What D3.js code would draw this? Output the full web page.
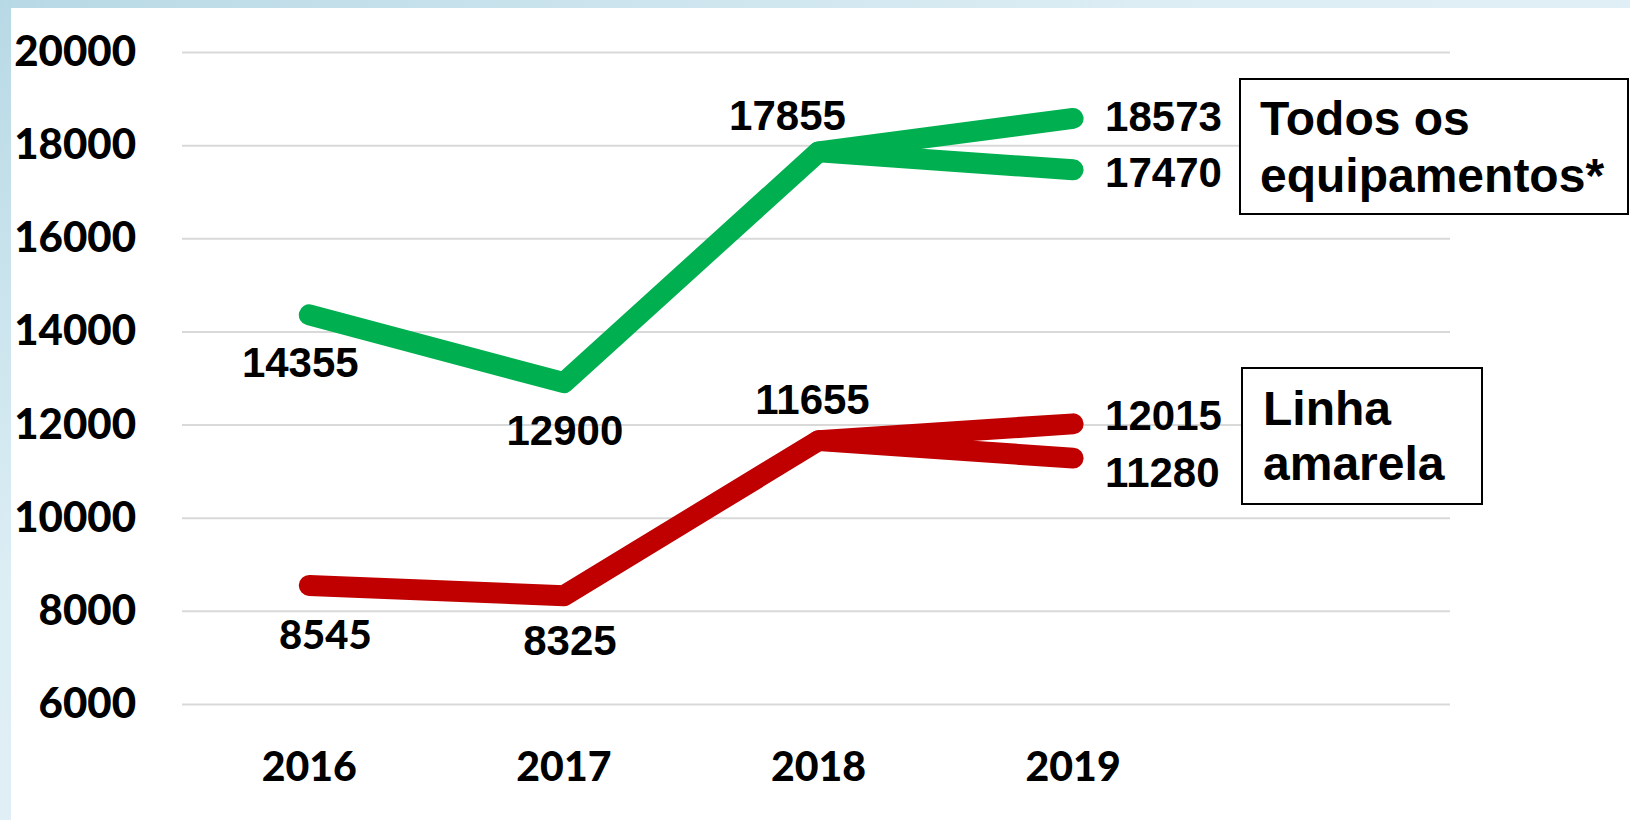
<!DOCTYPE html>
<html>
<head>
<meta charset="utf-8">
<script src="https://cdn.jsdelivr.net/npm/d3@7/dist/d3.min.js"></script>
<style>
  html, body { margin: 0; padding: 0; background: #fff; }
  svg { display: block; }
</style>
</head>
<body>
<script>
// ---------- data ----------
const years = ["2016", "2017", "2018", "2019"];
const todosMain = [14355, 12900, 17855, 18573];
const todosAlt  = [null, null, 17855, 17470];
const linhaMain = [8545, 8325, 11655, 12015];
const linhaAlt  = [null, null, 11655, 11280];
const yTicks = [6000, 8000, 10000, 12000, 14000, 16000, 18000, 20000];
const legendTodos = ["Todos os", "equipamentos*"];
const legendLinha = ["Linha", "amarela"];

// ---------- layout ----------
const W = 1630, H = 820;
const plotLeft = 182, plotRight = 1450;
const svg = d3.select("body").append("svg").attr("width", W).attr("height", H);

// background frame gradient
const defs = svg.append("defs");
const g1 = defs.append("linearGradient").attr("id", "bg").attr("x1", "0").attr("y1", "0").attr("x2", "1").attr("y2", "1");
g1.append("stop").attr("offset", "0").attr("stop-color", "#b7d9e5");
g1.append("stop").attr("offset", "0.35").attr("stop-color", "#dcedf4");
g1.append("stop").attr("offset", "1").attr("stop-color", "#eef6fa");
svg.append("rect").attr("width", W).attr("height", H).attr("fill", "url(#bg)");
svg.append("rect").attr("x", 11).attr("y", 8).attr("width", W - 11).attr("height", H - 8).attr("fill", "#fff");

const x = d3.scaleBand().domain(years).range([plotLeft, plotLeft + 4 * 254.6]);
const y = d3.scaleLinear().domain([6000, 20000]).range([704, 52]);
const cx = d => x(d) + x.bandwidth() / 2;

const calibri = "Lato, 'Open Sans', sans-serif";
const arial = "'Liberation Sans', Arial, sans-serif";

// gridlines
svg.append("g")
  .attr("transform", `translate(${plotLeft},0)`)
  .call(d3.axisLeft(y).tickValues(yTicks).tickSize(-(plotRight - plotLeft)).tickFormat(""))
  .call(g => g.select(".domain").remove())
  .call(g => g.selectAll("line").attr("stroke", "#d9d9d9").attr("stroke-width", 2));

// y tick labels
svg.append("g")
  .attr("transform", `translate(${plotLeft},0)`)
  .call(d3.axisLeft(y).tickValues(yTicks).tickSize(0).tickPadding(46).tickFormat(d3.format("d")))
  .call(g => g.select(".domain").remove())
  .call(g => g.selectAll("text")
    .attr("font-family", calibri)
    .attr("font-weight", 900).attr("font-size", 42).attr("fill", "#000"));

// x labels
svg.append("g")
  .attr("transform", `translate(0,704)`)
  .call(d3.axisBottom(x).tickSize(0).tickPadding(0))
  .call(g => g.select(".domain").remove())
  .call(g => g.selectAll("text")
    .attr("dy", null).attr("y", 77)
    .attr("font-family", calibri)
    .attr("font-weight", 900).attr("font-size", 41).attr("fill", "#000"));

// lines
const line = d3.line()
  .defined(d => d.v != null)
  .x(d => cx(d.k)).y(d => y(d.v));
const toPts = arr => arr.map((v, i) => ({ k: years[i], v }));
const series = [
  { vals: linhaMain, color: "#c00000" },
  { vals: linhaAlt,  color: "#c00000" },
  { vals: todosMain, color: "#00b050" },
  { vals: todosAlt,  color: "#00b050" }
];
series.forEach(s => {
  svg.append("path").datum(toPts(s.vals))
    .attr("d", line)
    .attr("fill", "none").attr("stroke", s.color)
    .attr("stroke-width", 21)
    .attr("stroke-linecap", "round").attr("stroke-linejoin", "round");
});

// data labels: [series values, index, dx, dy, anchor, font, size, weight]
const labelSpecs = [
  [todosMain, 0, -9, 62, "middle", arial, 42, "bold"],
  [todosMain, 1, 1, 62, "middle", arial, 42, "bold"],
  [todosMain, 2, -31, -22, "middle", arial, 42, "bold"],
  [todosMain, 3, 32, 12.5, "start", arial, 42, "bold"],
  [todosAlt, 3, 32, 17, "start", arial, 42, "bold"],
  [linhaMain, 0, 16, 64, "middle", calibri, 40, 900],
  [linhaMain, 1, 6, 59, "middle", arial, 42, "bold"],
  [linhaMain, 2, -6, -27, "middle", arial, 42, "bold"],
  [linhaMain, 3, 32, 6, "start", arial, 42, "bold"],
  [linhaAlt, 3, 32, 29, "start", arial, 42, "bold"]
];
svg.append("g").selectAll("text").data(labelSpecs).join("text")
  .attr("x", d => cx(years[d[1]]) + d[2])
  .attr("y", d => y(d[0][d[1]]) + d[3])
  .attr("text-anchor", d => d[4])
  .attr("font-family", d => d[5])
  .attr("font-size", d => d[6])
  .attr("font-weight", d => d[7]).attr("fill", "#000")
  .text(d => d[0][d[1]]);

// legend boxes
function box(x0, y0, x1, y1, lines, baseline0, lineGap, tx) {
  svg.append("rect").attr("x", x0).attr("y", y0).attr("width", x1 - x0).attr("height", y1 - y0)
    .attr("fill", "#fff").attr("stroke", "#000").attr("stroke-width", 2);
  const t = svg.append("text").attr("font-family", arial).attr("font-weight", "bold")
    .attr("font-size", 48).attr("fill", "#000");
  lines.forEach((s, i) => t.append("tspan").attr("x", tx).attr("y", baseline0 + i * lineGap).text(s));
}
box(1240, 79, 1628, 214, legendTodos, 135, 57, 1260);
box(1242, 368, 1482, 504, legendLinha, 425, 55, 1263);
</script>
</body>
</html>
